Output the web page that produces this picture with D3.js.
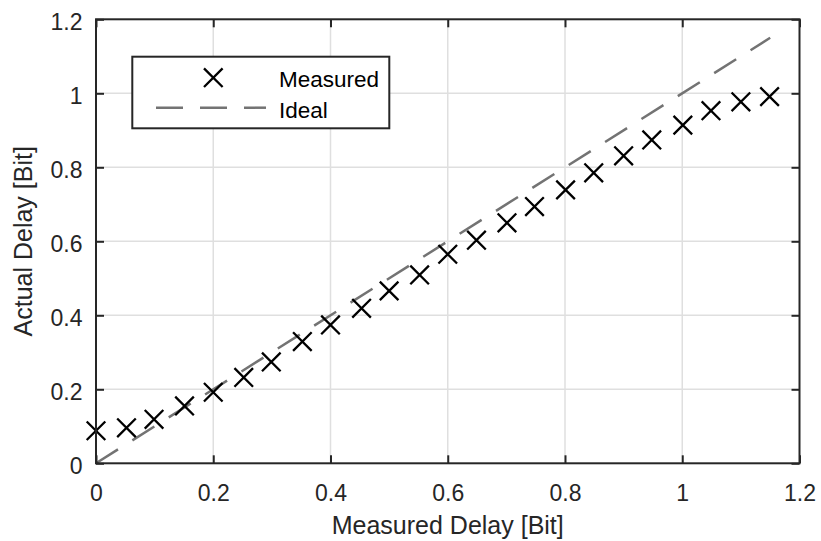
<!DOCTYPE html>
<html>
<head>
<meta charset="utf-8">
<script src="https://cdn.jsdelivr.net/npm/d3@7"></script>
<style>
  html, body { margin: 0; padding: 0; background: #fff; }
  svg { display: block; font-family: "Liberation Sans", Arial, Helvetica, sans-serif; }
</style>
</head>
<body>
<svg id="chart" width="821" height="541"></svg>
<script>
// Measured vs. actual delay, both in bits
const measuredDelay = [0, 0.052, 0.099, 0.151, 0.2, 0.252, 0.299, 0.352, 0.4, 0.453,
  0.5, 0.552, 0.6, 0.649, 0.701, 0.748, 0.801, 0.849, 0.9, 0.948, 1.001, 1.049, 1.1, 1.149];
const actualDelay = [0.088, 0.096, 0.119, 0.155, 0.192, 0.232, 0.274, 0.329, 0.374, 0.419,
  0.466, 0.509, 0.565, 0.603, 0.650, 0.694, 0.739, 0.785, 0.831, 0.874, 0.914, 0.953, 0.977, 0.991];
// Ideal 1:1 reference line
const idealX = [0, 1.15];
const idealY = [0, 1.15];
// Axis ticks and their labels
const tickValues = [0, 0.2, 0.4, 0.6, 0.8, 1, 1.2];
const tickLabels = ["0", "0.2", "0.4", "0.6", "0.8", "1", "1.2"];
const xLabel = "Measured Delay [Bit]";
const yLabel = "Actual Delay [Bit]";
const legendLabels = ["Measured", "Ideal"];

const svg = d3.select("#chart");
const plotL = 96, plotR = 799.5, plotT = 19.3, plotB = 463.3;
const x = d3.scaleLinear().domain([0, 1.2]).range([plotL, plotR]);
const y = d3.scaleLinear().domain([0, 1.2]).range([plotB, plotT]);

const axisColor = "#262626";
const gridColor = "#dfdfdf";
const tickLen = 8;

// grid
const grid = svg.append("g");
grid.selectAll("line.gx").data(tickValues.slice(1, -1)).join("line")
  .attr("class", "gx")
  .attr("x1", d => x(d)).attr("x2", d => x(d))
  .attr("y1", plotT).attr("y2", plotB)
  .attr("stroke", gridColor).attr("stroke-width", 1.5);
grid.selectAll("line.gy").data(tickValues.slice(1, -1)).join("line")
  .attr("class", "gy")
  .attr("y1", d => y(d)).attr("y2", d => y(d))
  .attr("x1", plotL).attr("x2", plotR)
  .attr("stroke", gridColor).attr("stroke-width", 1.5);

// ideal line
svg.append("path")
  .datum(d3.zip(idealX, idealY))
  .attr("d", d3.line().x(d => x(d[0])).y(d => y(d[1])))
  .attr("fill", "none").attr("stroke", "#737373")
  .attr("stroke-width", 2.5).attr("stroke-dasharray", "26,17");

// measured markers
const ms = 9.3;
function cross(g, cx, cy) {
  g.append("path")
    .attr("d", `M${cx - ms},${cy - ms}L${cx + ms},${cy + ms}M${cx - ms},${cy + ms}L${cx + ms},${cy - ms}`)
    .attr("stroke", "#000").attr("stroke-width", 2.3).attr("fill", "none");
}
const marks = svg.append("g");
d3.zip(measuredDelay, actualDelay).forEach(d => cross(marks, x(d[0]), y(d[1])));

// axes box with inward ticks on all sides
const axes = svg.append("g");
const xAxisB = d3.axisBottom(x).tickValues(tickValues).tickFormat((d, i) => tickLabels[i])
  .tickSizeInner(-tickLen).tickSizeOuter(0).tickPadding(21);
const xAxisT = d3.axisTop(x).tickValues(tickValues).tickFormat("")
  .tickSizeInner(-tickLen).tickSizeOuter(0);
const yAxisL = d3.axisLeft(y).tickValues(tickValues).tickFormat((d, i) => tickLabels[i])
  .tickSizeInner(-tickLen).tickSizeOuter(0).tickPadding(13.5);
const yAxisR = d3.axisRight(y).tickValues(tickValues).tickFormat("")
  .tickSizeInner(-tickLen).tickSizeOuter(0);

function styleAxis(g) {
  g.select(".domain").remove();
  g.selectAll(".tick line").attr("stroke", axisColor).attr("stroke-width", 2);
  g.selectAll(".tick text").attr("fill", "#262626").style("font-size", "23px")
    .style("font-family", "'Liberation Sans', Arial, sans-serif");
}
axes.append("g").attr("transform", `translate(0,${plotB})`).call(xAxisB).call(styleAxis);
axes.append("g").attr("transform", `translate(0,${plotT})`).call(xAxisT).call(styleAxis);
axes.append("g").attr("transform", `translate(${plotL},0)`).call(yAxisL).call(styleAxis)
  .selectAll(".tick text").attr("dy", "0.44em");
axes.append("g").attr("transform", `translate(${plotR},0)`).call(yAxisR).call(styleAxis);

axes.append("rect")
  .attr("x", plotL).attr("y", plotT).attr("width", plotR - plotL).attr("height", plotB - plotT)
  .attr("fill", "none").attr("stroke", axisColor).attr("stroke-width", 2);

// axis labels
svg.append("text")
  .attr("x", (plotL + plotR) / 2).attr("y", 534)
  .attr("text-anchor", "middle").attr("fill", "#262626")
  .style("font-size", "25px").text(xLabel);
svg.append("text")
  .attr("transform", `translate(32,${(plotT + plotB) / 2}) rotate(-90)`)
  .attr("text-anchor", "middle").attr("fill", "#262626")
  .style("font-size", "25px").text(yLabel);

// legend
const lg = svg.append("g");
lg.append("rect").attr("x", 132.3).attr("y", 56.7).attr("width", 257).attr("height", 71.6)
  .attr("fill", "#fff").attr("stroke", axisColor).attr("stroke-width", 2);
cross(lg, 213.3, 77.7);
lg.append("line").attr("x1", 156).attr("x2", 266).attr("y1", 107.7).attr("y2", 107.7)
  .attr("stroke", "#737373").attr("stroke-width", 2.5).attr("stroke-dasharray", "27,17");
lg.selectAll("text").data(legendLabels).join("text")
  .attr("x", 279).attr("y", (d, i) => [87.3, 118.3][i])
  .attr("fill", "#000").style("font-size", "22.5px").text(d => d);
</script>
</body>
</html>
